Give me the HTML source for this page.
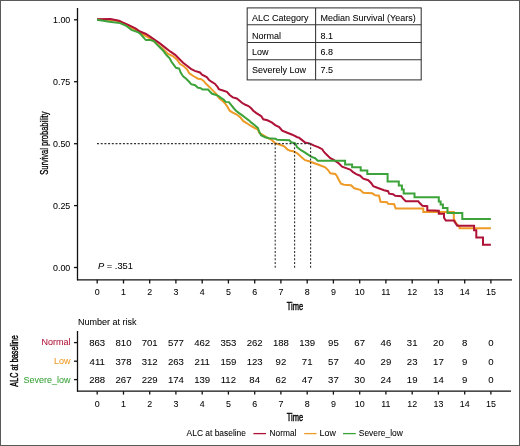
<!DOCTYPE html><html><head><meta charset="utf-8"><style>
html,body{margin:0;padding:0;background:#fff;}
svg{display:block;will-change:transform;}
text{font-family:"Liberation Sans", sans-serif;fill:#000;stroke:#000;stroke-width:0.05px;}
</style></head><body>
<svg width="520" height="446" viewBox="0 0 520 446">
<rect x="0" y="0" width="520" height="446" fill="#fff"/>
<rect x="0.5" y="0.5" width="519" height="445" fill="none" stroke="#5a5a5a" stroke-width="1"/>
<g stroke="#111" stroke-width="1.3" fill="none">
<line x1="77.5" y1="8" x2="77.5" y2="280.3"/>
<line x1="77" y1="279.8" x2="512" y2="279.8"/>
<line x1="74" y1="267.5" x2="77.5" y2="267.5"/>
<line x1="74" y1="205.6" x2="77.5" y2="205.6"/>
<line x1="74" y1="143.7" x2="77.5" y2="143.7"/>
<line x1="74" y1="81.7" x2="77.5" y2="81.7"/>
<line x1="74" y1="19.8" x2="77.5" y2="19.8"/>
<line x1="97.2" y1="279.8" x2="97.2" y2="283.5"/>
<line x1="123.5" y1="279.8" x2="123.5" y2="283.5"/>
<line x1="149.7" y1="279.8" x2="149.7" y2="283.5"/>
<line x1="175.9" y1="279.8" x2="175.9" y2="283.5"/>
<line x1="202.2" y1="279.8" x2="202.2" y2="283.5"/>
<line x1="228.4" y1="279.8" x2="228.4" y2="283.5"/>
<line x1="254.7" y1="279.8" x2="254.7" y2="283.5"/>
<line x1="280.9" y1="279.8" x2="280.9" y2="283.5"/>
<line x1="307.2" y1="279.8" x2="307.2" y2="283.5"/>
<line x1="333.4" y1="279.8" x2="333.4" y2="283.5"/>
<line x1="359.7" y1="279.8" x2="359.7" y2="283.5"/>
<line x1="385.9" y1="279.8" x2="385.9" y2="283.5"/>
<line x1="412.2" y1="279.8" x2="412.2" y2="283.5"/>
<line x1="438.4" y1="279.8" x2="438.4" y2="283.5"/>
<line x1="464.7" y1="279.8" x2="464.7" y2="283.5"/>
<line x1="490.9" y1="279.8" x2="490.9" y2="283.5"/>
</g>
<text x="70.3" y="270.7" font-size="8.9" text-anchor="end">0.00</text>
<text x="70.3" y="208.8" font-size="8.9" text-anchor="end">0.25</text>
<text x="70.3" y="146.8" font-size="8.9" text-anchor="end">0.50</text>
<text x="70.3" y="84.9" font-size="8.9" text-anchor="end">0.75</text>
<text x="70.3" y="23.0" font-size="8.9" text-anchor="end">1.00</text>
<text x="97.2" y="295.2" font-size="8.9" text-anchor="middle">0</text>
<text x="123.5" y="295.2" font-size="8.9" text-anchor="middle">1</text>
<text x="149.7" y="295.2" font-size="8.9" text-anchor="middle">2</text>
<text x="175.9" y="295.2" font-size="8.9" text-anchor="middle">3</text>
<text x="202.2" y="295.2" font-size="8.9" text-anchor="middle">4</text>
<text x="228.4" y="295.2" font-size="8.9" text-anchor="middle">5</text>
<text x="254.7" y="295.2" font-size="8.9" text-anchor="middle">6</text>
<text x="280.9" y="295.2" font-size="8.9" text-anchor="middle">7</text>
<text x="307.2" y="295.2" font-size="8.9" text-anchor="middle">8</text>
<text x="333.4" y="295.2" font-size="8.9" text-anchor="middle">9</text>
<text x="359.7" y="295.2" font-size="8.9" text-anchor="middle">10</text>
<text x="385.9" y="295.2" font-size="8.9" text-anchor="middle">11</text>
<text x="412.2" y="295.2" font-size="8.9" text-anchor="middle">12</text>
<text x="438.4" y="295.2" font-size="8.9" text-anchor="middle">13</text>
<text x="464.7" y="295.2" font-size="8.9" text-anchor="middle">14</text>
<text x="490.9" y="295.2" font-size="8.9" text-anchor="middle">15</text>
<text transform="translate(47.8,143.2) rotate(-90) scale(0.72,1)" font-size="10.5" style="stroke-width:0.3px" text-anchor="middle">Survival probability</text>
<text transform="translate(295,310.1) scale(0.635,1)" font-size="11.8" style="stroke-width:0.45px" text-anchor="middle">Time</text>
<text x="98" y="268.5" font-size="9.3"><tspan font-style="italic">P</tspan> = .351</text>
<polyline points="97.0,19.5 110.0,19.8 119.0,21.2 125.0,24.0 135.0,29.5 145.0,35.6 150.0,38.5 157.1,44.0 163.0,49.0 168.1,54.0 172.8,56.0 176.8,59.5 179.9,63.8 183.8,66.2 187.0,69.3 189.3,73.3 193.3,76.0 198.0,78.7 200.7,79.0 203.4,80.7 205.4,83.1 208.1,85.8 210.8,88.4 213.5,91.1 216.2,93.8 218.8,97.9 222.2,100.6 224.9,103.2 227.4,106.8 229.7,110.7 232.8,112.7 236.8,114.6 240.7,117.8 243.1,120.9 247.0,123.3 250.9,126.0 254.8,128.0 258.0,129.5 259.0,132.7 263.1,135.2 268.1,138.2 272.1,140.2 275.2,143.3 280.2,144.8 284.2,146.3 287.3,149.3 290.3,150.8 293.3,151.3 297.3,153.3 301.0,156.7 305.1,160.2 309.1,161.3 313.1,162.8 317.2,164.3 321.2,165.8 325.2,167.3 328.3,170.3 330.3,173.3 335.3,173.9 337.0,176.2 339.0,180.2 341.0,183.7 344.1,184.7 351.1,185.2 354.2,188.3 360.2,189.8 363.2,192.8 372.3,193.3 375.3,195.3 379.0,195.7 380.5,201.8 387.1,202.3 388.1,203.8 394.2,204.3 395.7,208.6 423.3,208.6 423.3,211.9 453.8,211.9 453.8,218.8 456.2,223.5 459.6,227.0 459.6,228.3 490.9,228.3" fill="none" stroke="#EE9A26" stroke-width="2" stroke-linejoin="miter"/>
<polyline points="97.0,19.2 110.4,19.1 119.0,20.7 122.0,22.2 127.7,24.6 135.4,28.4 140.0,31.5 146.0,34.0 150.1,36.6 155.1,40.1 160.2,43.6 166.8,48.9 170.5,51.7 175.2,54.8 179.1,58.7 183.1,62.7 187.0,65.8 190.9,68.9 194.8,70.9 200.0,72.5 202.0,74.7 206.7,77.0 208.8,79.7 211.4,81.7 214.8,83.7 217.5,86.8 218.8,89.1 222.9,90.5 226.9,91.8 229.7,95.0 232.8,97.4 236.8,98.5 239.9,100.9 241.9,102.8 245.4,104.8 248.5,106.0 250.9,108.0 253.3,110.7 256.4,113.1 260.0,115.4 261.3,116.3 263.3,119.3 267.4,120.3 272.1,122.6 275.2,125.1 279.2,127.1 282.2,130.7 287.3,132.7 292.3,134.7 297.3,137.2 299.0,137.6 302.1,140.1 305.1,142.6 310.1,143.6 314.2,145.6 318.2,147.1 322.2,149.2 324.2,152.2 327.3,155.2 330.3,158.2 333.3,159.7 337.3,162.3 339.0,163.6 342.1,166.6 346.1,168.1 350.1,169.6 353.1,172.1 356.2,174.2 360.2,175.7 363.2,178.7 368.3,180.2 371.3,183.2 373.3,186.3 377.3,187.8 381.4,189.3 384.1,190.2 388.1,191.2 389.1,193.7 393.1,194.2 395.2,195.7 401.2,196.2 403.2,198.7 405.7,201.3 418.3,201.3 419.9,203.3 422.4,205.8 427.3,206.2 427.3,210.2 438.8,210.8 438.8,213.7 444.0,213.7 444.0,217.7 445.8,220.6 453.8,220.6 457.3,225.8 474.1,225.8 474.1,230.2 476.3,230.2 476.3,237.5 483.0,237.5 483.0,244.8 490.9,244.8" fill="none" stroke="#AE1236" stroke-width="2" stroke-linejoin="miter"/>
<polyline points="97.0,19.8 109.4,21.7 120.0,23.1 125.8,25.5 131.5,29.9 138.3,32.3 141.0,34.5 144.5,38.6 146.0,40.1 150.1,40.1 154.1,41.1 156.6,44.1 160.5,48.0 163.2,50.7 165.9,54.3 167.4,56.0 169.7,58.3 171.3,61.5 173.6,64.6 176.0,67.8 179.1,68.5 180.7,72.5 183.1,76.4 186.2,78.8 189.1,81.7 191.1,84.2 195.1,85.2 198.0,87.8 200.7,88.1 202.7,89.5 208.1,89.5 210.1,91.8 212.1,93.8 215.5,94.8 218.2,95.8 220.9,97.9 223.6,99.5 225.6,101.9 228.9,102.1 231.3,105.2 233.6,108.0 236.0,110.7 239.1,113.1 242.3,115.4 245.4,117.8 248.5,120.1 251.7,122.9 254.8,125.2 258.0,128.0 259.0,131.2 261.0,135.2 265.1,137.2 269.1,138.2 275.2,138.7 277.2,139.7 289.3,140.2 291.3,142.3 295.3,143.3 297.0,147.1 301.0,150.2 305.1,152.7 308.1,154.7 311.1,156.7 315.2,158.2 317.7,160.7 345.1,160.7 345.1,164.6 352.1,164.6 352.1,167.3 360.7,167.3 360.7,170.6 367.3,170.6 367.3,174.0 387.6,174.0 387.6,181.6 398.8,181.6 398.8,185.5 401.9,185.5 401.9,189.5 403.7,189.5 403.7,193.4 414.5,193.4 414.5,197.3 438.8,197.2 438.8,201.5 440.6,201.5 440.6,204.4 442.9,204.4 442.9,207.9 447.5,207.9 447.5,213.1 462.3,213.1 462.3,219.0 490.9,219.0" fill="none" stroke="#3BA33A" stroke-width="2" stroke-linejoin="miter"/>
<g stroke="#333" stroke-width="1.1" stroke-dasharray="2,1.7" fill="none">
<line x1="97" y1="143.6" x2="310.8" y2="143.6"/>
<line x1="275.2" y1="143.6" x2="275.2" y2="267.8"/>
<line x1="294.6" y1="143.6" x2="294.6" y2="267.8"/>
<line x1="310.6" y1="143.6" x2="310.6" y2="267.8"/>
</g>
<g stroke="#333" stroke-width="1.05" fill="none">
<rect x="247.2" y="7.9" width="174" height="72"/>
<line x1="247.2" y1="24.8" x2="421.2" y2="24.8"/>
<line x1="247.2" y1="42.5" x2="421.2" y2="42.5"/>
<line x1="247.2" y1="59.8" x2="421.2" y2="59.8"/>
<line x1="315.6" y1="7.9" x2="315.6" y2="79.9"/>
</g>
<text x="252" y="20.8" font-size="9.3" textLength="56.52" lengthAdjust="spacingAndGlyphs">ALC Category</text>
<text x="320.5" y="20.8" font-size="9.3" textLength="95.20" lengthAdjust="spacingAndGlyphs">Median Survival (Years)</text>
<text x="252" y="38.5" font-size="9.3" textLength="29.00" lengthAdjust="spacingAndGlyphs">Normal</text>
<text x="320.5" y="38.5" font-size="9.3" textLength="12.51" lengthAdjust="spacingAndGlyphs">8.1</text>
<text x="252" y="54.7" font-size="9.3" textLength="16.51" lengthAdjust="spacingAndGlyphs">Low</text>
<text x="320.5" y="54.7" font-size="9.3" textLength="12.51" lengthAdjust="spacingAndGlyphs">6.8</text>
<text x="252" y="73.3" font-size="9.3" textLength="54.02" lengthAdjust="spacingAndGlyphs">Severely Low</text>
<text x="320.5" y="73.3" font-size="9.3" textLength="12.51" lengthAdjust="spacingAndGlyphs">7.5</text>
<text x="78" y="324.8" font-size="9">Number at risk</text>
<g stroke="#111" stroke-width="1.3" fill="none">
<line x1="77.5" y1="331" x2="77.5" y2="391.7"/>
<line x1="77" y1="391.2" x2="511" y2="391.2"/>
<line x1="74" y1="342.6" x2="77.5" y2="342.6"/>
<line x1="74" y1="361.2" x2="77.5" y2="361.2"/>
<line x1="74" y1="379.6" x2="77.5" y2="379.6"/>
<line x1="97.2" y1="391.2" x2="97.2" y2="394.6"/>
<line x1="123.5" y1="391.2" x2="123.5" y2="394.6"/>
<line x1="149.7" y1="391.2" x2="149.7" y2="394.6"/>
<line x1="175.9" y1="391.2" x2="175.9" y2="394.6"/>
<line x1="202.2" y1="391.2" x2="202.2" y2="394.6"/>
<line x1="228.4" y1="391.2" x2="228.4" y2="394.6"/>
<line x1="254.7" y1="391.2" x2="254.7" y2="394.6"/>
<line x1="280.9" y1="391.2" x2="280.9" y2="394.6"/>
<line x1="307.2" y1="391.2" x2="307.2" y2="394.6"/>
<line x1="333.4" y1="391.2" x2="333.4" y2="394.6"/>
<line x1="359.7" y1="391.2" x2="359.7" y2="394.6"/>
<line x1="385.9" y1="391.2" x2="385.9" y2="394.6"/>
<line x1="412.2" y1="391.2" x2="412.2" y2="394.6"/>
<line x1="438.4" y1="391.2" x2="438.4" y2="394.6"/>
<line x1="464.7" y1="391.2" x2="464.7" y2="394.6"/>
<line x1="490.9" y1="391.2" x2="490.9" y2="394.6"/>
</g>
<text x="70.5" y="345.4" font-size="9" text-anchor="end" style="fill:#AE1236;stroke:#AE1236">Normal</text>
<text x="70.5" y="364.4" font-size="9" text-anchor="end" style="fill:#EE9A26;stroke:#EE9A26">Low</text>
<text x="70.5" y="382.8" font-size="9" text-anchor="end" style="fill:#3BA33A;stroke:#3BA33A">Severe_low</text>
<text x="97.2" y="345.5" font-size="9.6" text-anchor="middle">863</text>
<text x="123.5" y="345.5" font-size="9.6" text-anchor="middle">810</text>
<text x="149.7" y="345.5" font-size="9.6" text-anchor="middle">701</text>
<text x="175.9" y="345.5" font-size="9.6" text-anchor="middle">577</text>
<text x="202.2" y="345.5" font-size="9.6" text-anchor="middle">462</text>
<text x="228.4" y="345.5" font-size="9.6" text-anchor="middle">353</text>
<text x="254.7" y="345.5" font-size="9.6" text-anchor="middle">262</text>
<text x="280.9" y="345.5" font-size="9.6" text-anchor="middle">188</text>
<text x="307.2" y="345.5" font-size="9.6" text-anchor="middle">139</text>
<text x="333.4" y="345.5" font-size="9.6" text-anchor="middle">95</text>
<text x="359.7" y="345.5" font-size="9.6" text-anchor="middle">67</text>
<text x="385.9" y="345.5" font-size="9.6" text-anchor="middle">46</text>
<text x="412.2" y="345.5" font-size="9.6" text-anchor="middle">31</text>
<text x="438.4" y="345.5" font-size="9.6" text-anchor="middle">20</text>
<text x="464.7" y="345.5" font-size="9.6" text-anchor="middle">8</text>
<text x="490.9" y="345.5" font-size="9.6" text-anchor="middle">0</text>
<text x="97.2" y="364.5" font-size="9.6" text-anchor="middle">411</text>
<text x="123.5" y="364.5" font-size="9.6" text-anchor="middle">378</text>
<text x="149.7" y="364.5" font-size="9.6" text-anchor="middle">312</text>
<text x="175.9" y="364.5" font-size="9.6" text-anchor="middle">263</text>
<text x="202.2" y="364.5" font-size="9.6" text-anchor="middle">211</text>
<text x="228.4" y="364.5" font-size="9.6" text-anchor="middle">159</text>
<text x="254.7" y="364.5" font-size="9.6" text-anchor="middle">123</text>
<text x="280.9" y="364.5" font-size="9.6" text-anchor="middle">92</text>
<text x="307.2" y="364.5" font-size="9.6" text-anchor="middle">71</text>
<text x="333.4" y="364.5" font-size="9.6" text-anchor="middle">57</text>
<text x="359.7" y="364.5" font-size="9.6" text-anchor="middle">40</text>
<text x="385.9" y="364.5" font-size="9.6" text-anchor="middle">29</text>
<text x="412.2" y="364.5" font-size="9.6" text-anchor="middle">23</text>
<text x="438.4" y="364.5" font-size="9.6" text-anchor="middle">17</text>
<text x="464.7" y="364.5" font-size="9.6" text-anchor="middle">9</text>
<text x="490.9" y="364.5" font-size="9.6" text-anchor="middle">0</text>
<text x="97.2" y="382.9" font-size="9.6" text-anchor="middle">288</text>
<text x="123.5" y="382.9" font-size="9.6" text-anchor="middle">267</text>
<text x="149.7" y="382.9" font-size="9.6" text-anchor="middle">229</text>
<text x="175.9" y="382.9" font-size="9.6" text-anchor="middle">174</text>
<text x="202.2" y="382.9" font-size="9.6" text-anchor="middle">139</text>
<text x="228.4" y="382.9" font-size="9.6" text-anchor="middle">112</text>
<text x="254.7" y="382.9" font-size="9.6" text-anchor="middle">84</text>
<text x="280.9" y="382.9" font-size="9.6" text-anchor="middle">62</text>
<text x="307.2" y="382.9" font-size="9.6" text-anchor="middle">47</text>
<text x="333.4" y="382.9" font-size="9.6" text-anchor="middle">37</text>
<text x="359.7" y="382.9" font-size="9.6" text-anchor="middle">30</text>
<text x="385.9" y="382.9" font-size="9.6" text-anchor="middle">24</text>
<text x="412.2" y="382.9" font-size="9.6" text-anchor="middle">19</text>
<text x="438.4" y="382.9" font-size="9.6" text-anchor="middle">14</text>
<text x="464.7" y="382.9" font-size="9.6" text-anchor="middle">9</text>
<text x="490.9" y="382.9" font-size="9.6" text-anchor="middle">0</text>
<text x="97.2" y="406.8" font-size="8.9" text-anchor="middle">0</text>
<text x="123.5" y="406.8" font-size="8.9" text-anchor="middle">1</text>
<text x="149.7" y="406.8" font-size="8.9" text-anchor="middle">2</text>
<text x="175.9" y="406.8" font-size="8.9" text-anchor="middle">3</text>
<text x="202.2" y="406.8" font-size="8.9" text-anchor="middle">4</text>
<text x="228.4" y="406.8" font-size="8.9" text-anchor="middle">5</text>
<text x="254.7" y="406.8" font-size="8.9" text-anchor="middle">6</text>
<text x="280.9" y="406.8" font-size="8.9" text-anchor="middle">7</text>
<text x="307.2" y="406.8" font-size="8.9" text-anchor="middle">8</text>
<text x="333.4" y="406.8" font-size="8.9" text-anchor="middle">9</text>
<text x="359.7" y="406.8" font-size="8.9" text-anchor="middle">10</text>
<text x="385.9" y="406.8" font-size="8.9" text-anchor="middle">11</text>
<text x="412.2" y="406.8" font-size="8.9" text-anchor="middle">12</text>
<text x="438.4" y="406.8" font-size="8.9" text-anchor="middle">13</text>
<text x="464.7" y="406.8" font-size="8.9" text-anchor="middle">14</text>
<text x="490.9" y="406.8" font-size="8.9" text-anchor="middle">15</text>
<text transform="translate(295,421.4) scale(0.635,1)" font-size="11.8" style="stroke-width:0.45px" text-anchor="middle">Time</text>
<text transform="translate(17.6,360.9) rotate(-90) scale(0.69,1)" font-size="10.6" style="stroke-width:0.4px" text-anchor="middle">ALC at baseline</text>
<text x="186.6" y="436.4" font-size="8.9" textLength="59.4" lengthAdjust="spacingAndGlyphs">ALC at baseline</text>
<line x1="253.4" y1="433.6" x2="266" y2="433.6" stroke="#AE1236" stroke-width="1.3"/>
<text x="269.6" y="436.4" font-size="8.9" textLength="26.8" lengthAdjust="spacingAndGlyphs">Normal</text>
<line x1="304.2" y1="433.6" x2="316.6" y2="433.6" stroke="#EE9A26" stroke-width="1.3"/>
<text x="319.6" y="436.4" font-size="8.9" textLength="16.2" lengthAdjust="spacingAndGlyphs">Low</text>
<line x1="343" y1="433.6" x2="355.8" y2="433.6" stroke="#3BA33A" stroke-width="1.3"/>
<text x="358.8" y="436.4" font-size="8.9" textLength="44" lengthAdjust="spacingAndGlyphs">Severe_low</text>
</svg></body></html>
